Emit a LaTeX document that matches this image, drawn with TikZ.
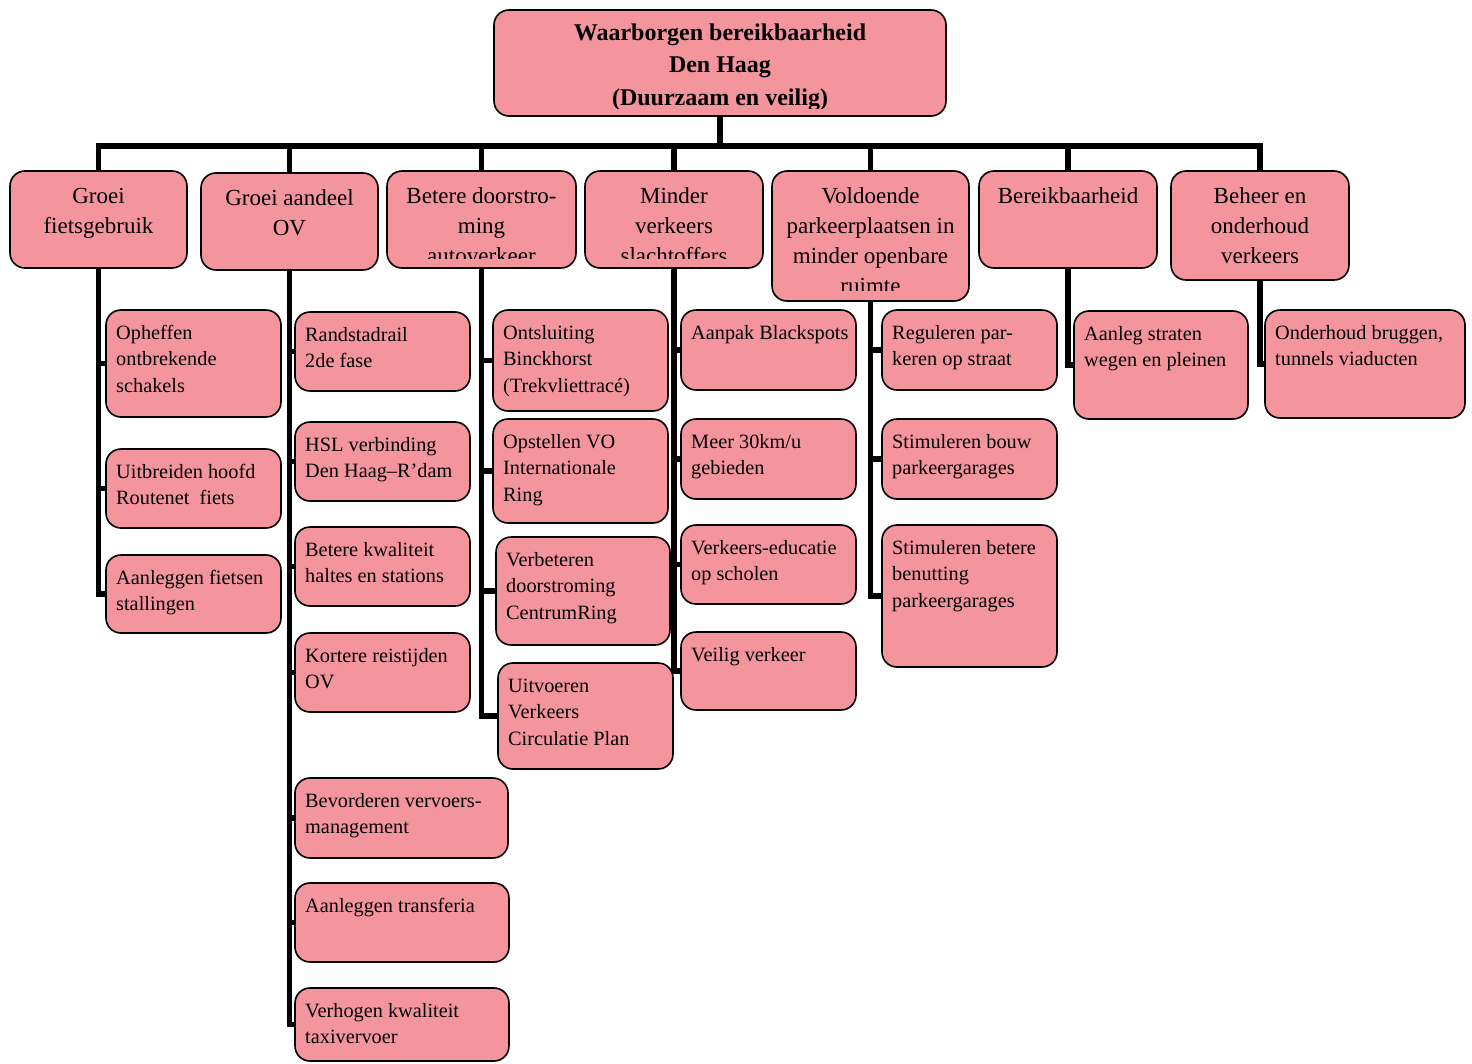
\documentclass[tikz,border=0pt]{standalone}
\usepackage{fontspec}
\setmainfont{Liberation Serif}
\usetikzlibrary{backgrounds}
\definecolor{boxpink}{RGB}{244,148,157}
\newcommand{\ltxt}[1]{\begin{tabular}[t]{@{}l@{}}#1\end{tabular}}
\newcommand{\ctxt}[1]{\begin{tabular}[t]{@{}c@{}}#1\end{tabular}}
\tikzset{
  pbox/.style={draw=black, line width=1.6pt, fill=boxpink, rounded corners=15pt, inner sep=0pt, outer sep=0pt},
  conn/.style={line width=5.5pt, line cap=rect, draw=black},
  leaftext/.style={anchor=base west, inner sep=0pt, font=\fontsize{20.3}{26.5}\selectfont},
  toptext/.style={anchor=base, inner sep=0pt, font=\fontsize{23}{30}\selectfont},
  titletext/.style={anchor=base, inner sep=0pt, font=\fontsize{24}{32.5}\selectfont\bfseries},
}
% name x1 y1 x2 y2 clipoffset text
\newcommand{\topbox}[7]{%
  \node[pbox, minimum width={(#4-#2)*1pt}, minimum height={(#5-#3)*1pt}] (#1) at ({(#2+#4)/2},{(#3+#5)/2}) {};
  \begin{scope}
    \clip (#2,#3) rectangle (#4,{#5-#6});
    \node[toptext] (#1t) at ({(#2+#4)/2},{#3+32}) {\ctxt{#7}};
  \end{scope}}
% name x1 y1 x2 y2 text
\newcommand{\leafbox}[6]{%
  \node[pbox, minimum width={(#4-#2)*1pt}, minimum height={(#5-#3)*1pt}] (#1) at ({(#2+#4)/2},{(#3+#5)/2}) {};
  \node[leaftext] (#1t) at ({#2+10},{#3+29}) {\ltxt{#6}};}
\begin{document}
\begin{tikzpicture}[x=1pt,y=-1pt]
\useasboundingbox (0,0) rectangle (1472,1063);

% root
\node[pbox, minimum width=452pt, minimum height=106pt] (root) at (720,63) {};
\begin{scope}
  \clip (494,10) rectangle (946,108);
  \node[titletext] (roott) at (720,40) {\ctxt{Waarborgen bereikbaarheid\\Den Haag\\(Duurzaam en veilig)}};
\end{scope}

% top level
\topbox{g1}{10}{171}{187}{268}{10}{Groei\\fietsgebruik}
\topbox{g2}{201}{173}{378}{270}{10}{Groei aandeel\\OV}
\topbox{g3}{387}{171}{576}{268}{10}{Betere doorstro-\\ming\\autoverkeer}
\topbox{g4}{585}{171}{763}{268}{10}{Minder\\verkeers\\slachtoffers}
\topbox{g5}{772}{171}{969}{301}{11}{Voldoende\\parkeerplaatsen in\\minder openbare\\ruimte}
\topbox{g6}{979}{171}{1157}{268}{10}{Bereikbaarheid}
\topbox{g7}{1171}{171}{1349}{280}{10}{Beheer en\\onderhoud\\verkeers}

% group 1
\leafbox{c11}{106}{310}{281}{417}{Opheffen\\ontbrekende\\schakels}
\leafbox{c12}{106}{449}{281}{528}{Uitbreiden hoofd\\Routenet\ \ fiets}
\leafbox{c13}{106}{555}{281}{633}{Aanleggen fietsen\\stallingen}
% group 2
\leafbox{c21}{295}{312}{470}{391}{Randstadrail\\2de fase}
\leafbox{c22}{295}{422}{470}{501}{HSL verbinding\\Den Haag–R’dam}
\leafbox{c23}{295}{527}{470}{606}{Betere kwaliteit\\haltes en stations}
\leafbox{c24}{295}{633}{470}{712}{Kortere reistijden\\OV}
\leafbox{c25}{295}{778}{508}{858}{Bevorderen vervoers-\\management}
\leafbox{c26}{295}{883}{509}{962}{Aanleggen transferia}
\leafbox{c27}{295}{988}{509}{1061}{Verhogen kwaliteit\\taxivervoer}
% group 3
\leafbox{c31}{493}{310}{668}{411}{Ontsluiting\\Binckhorst\\(Trekvliettracé)}
\leafbox{c32}{493}{419}{668}{523}{Opstellen VO\\Internationale\\Ring}
\leafbox{c33}{496}{537}{670}{645}{Verbeteren\\doorstroming\\CentrumRing}
\leafbox{c34}{498}{663}{673}{769}{Uitvoeren\\Verkeers\\Circulatie Plan}
% group 4
\leafbox{c41}{681}{310}{856}{390}{Aanpak Blackspots}
\leafbox{c42}{681}{419}{856}{499}{Meer 30km/u\\gebieden}
\leafbox{c43}{681}{525}{856}{604}{Verkeers-educatie\\op scholen}
\leafbox{c44}{681}{632}{856}{710}{Veilig verkeer}
% group 5
\leafbox{c51}{882}{310}{1057}{390}{Reguleren par-\\keren op straat}
\leafbox{c52}{882}{419}{1057}{499}{Stimuleren bouw\\parkeergarages}
\leafbox{c53}{882}{525}{1057}{667}{Stimuleren betere\\benutting\\parkeergarages}
% group 6
\leafbox{c61}{1074}{311}{1248}{419}{Aanleg straten\\wegen en pleinen}
% group 7
\leafbox{c71}{1265}{310}{1465}{418}{Onderhoud bruggen,\\tunnels viaducten}

\begin{pgfonlayer}{background}
  \fill[white] (0,0) rectangle (1472,1063);
  \coordinate (bus) at (720,146);
  \draw[conn] (root.south) -- (bus);
  \draw[conn] (bus -| g1.north) -- (bus -| g7.north);
  \foreach \g in {g1,g2,g3,g4,g5,g6,g7} {
    \draw[conn] (bus -| \g.north) -- (\g.north);
  }
  \foreach \c in {c11,c12,c13} {\draw[conn] (g1.south) |- (\c.west);}
  \foreach \c in {c21,c22,c23,c24,c25,c26,c27} {\draw[conn] (g2.south) |- (\c.west);}
  \foreach \c in {c31,c32,c33,c34} {\draw[conn] (g3.south) |- (\c.west);}
  \foreach \c in {c41,c42,c43,c44} {\draw[conn] (g4.south) |- (\c.west);}
  \foreach \c in {c51,c52,c53} {\draw[conn] (g5.south) |- (\c.west);}
  \draw[conn] (g6.south) |- (c61.west);
  \draw[conn] (g7.south) |- (c71.west);
\end{pgfonlayer}
\end{tikzpicture}
\end{document}
